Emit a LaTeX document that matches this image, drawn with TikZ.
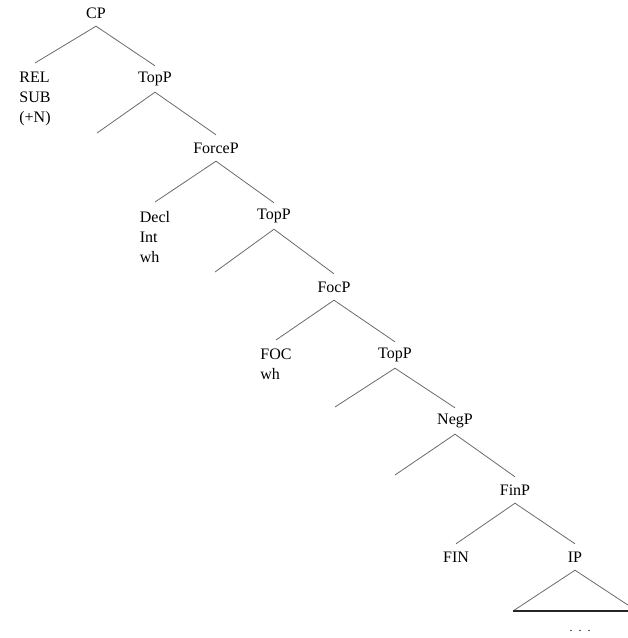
\documentclass[tikz,border=0pt]{standalone}
\usepackage{fontspec}
\setmainfont{Liberation Serif}
\usetikzlibrary{positioning}
\definecolor{branchgray}{HTML}{6A6A6A}
\tikzset{
 cat/.style={inner sep=0pt,minimum height=26pt,font=\fontsize{16}{20}\selectfont},
 feat/.style={anchor=north,align=left,inner xsep=0pt,inner ysep=9pt,font=\fontsize{16}{20}\selectfont},
 branch/.style={draw=branchgray,line width=.8pt},
 tribase/.style={draw=black!85,line width=1.3pt}
}

\begin{document}
\begin{tikzpicture}[x=1pt,y=-1pt]
 \useasboundingbox (0,0) rectangle (628,638);
 \node[cat] (cp) at (96,13) {CP};
 \node[cat] (topa) at (155,79) {TopP};
 \node[cat] (force) at (216,148) {ForceP};
 \node[cat] (topb) at (274,216) {TopP};
 \node[cat] (foc) at (334,287) {FocP};
 \node[cat] (topc) at (395,355) {TopP};
 \node[cat] (neg) at (455,421) {NegP};
 \node[cat] (fin) at (515,490) {FinP};
 \node[cat] (finhead) at (456,557) {FIN};
 \node[cat] (ip) at (575,557) {IP};
 \node[feat] (rel) at (35,63) {REL\\SUB\\(+N)};
 \node[feat] (decl) at (155,202) {Decl\\Int\\wh};
 \node[feat] (foch) at (276,340) {FOC\\wh};
 \node[font=\fontsize{12}{14}\selectfont,inner sep=0pt] (ipdots) at (580,631) {.\hspace{6pt}.\hspace{6pt}.};
 \coordinate (topa-l) at (97,133);
 \coordinate (topb-l) at (215,272);
 \coordinate (topc-l) at (335,407);
 \coordinate (neg-l) at (395,475);
 \coordinate (ip-l) at (513,611);
 \coordinate (ip-r) at (637,611);
 \draw[branch] (rel.north) -- (cp.south) -- (topa.north);
 \draw[branch] (topa-l) -- (topa.south) -- (force.north);
 \draw[branch] (decl.north) -- (force.south) -- (topb.north);
 \draw[branch] (topb-l) -- (topb.south) -- (foc.north);
 \draw[branch] (foch.north) -- (foc.south) -- (topc.north);
 \draw[branch] (topc-l) -- (topc.south) -- (neg.north);
 \draw[branch] (neg-l) -- (neg.south) -- (fin.north);
 \draw[branch] (finhead.north) -- (fin.south) -- (ip.north);
 \draw[branch] (ip-l) -- (ip.south) -- (ip-r);
 \draw[tribase] (ip-l) -- (ip-r);
\end{tikzpicture}
\end{document}
